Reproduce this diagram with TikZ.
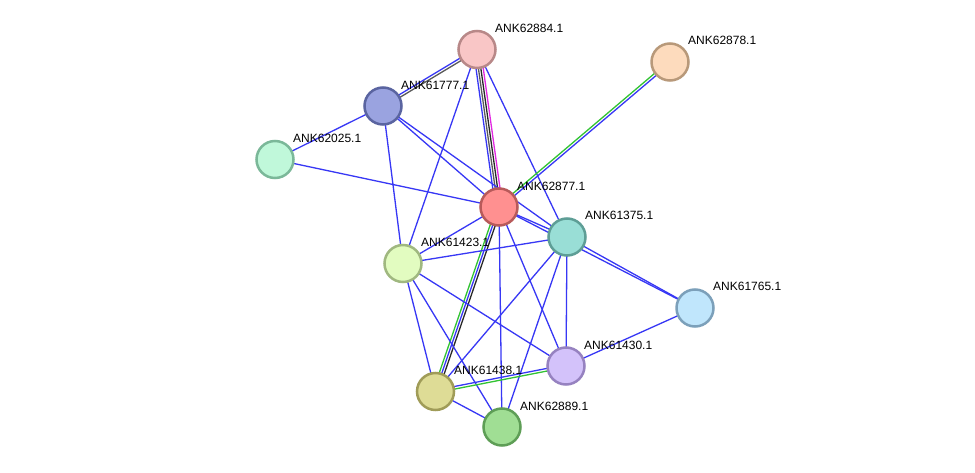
\documentclass[tikz,border=0pt]{standalone}
\usepackage{fontspec}
\setmainfont{Liberation Sans}
\usetikzlibrary{calc}
\pgfdeclarelayer{bgfill}
\pgfdeclarelayer{edges}
\pgfsetlayers{bgfill,edges,main}
\definecolor{eblue}{RGB}{55,55,245}
\definecolor{egreen}{RGB}{50,195,50}
\definecolor{eblack}{RGB}{40,40,40}
\definecolor{egray}{RGB}{90,90,90}
\definecolor{emag}{RGB}{225,40,225}
\definecolor{f84}{RGB}{249,198,198}\definecolor{d84}{RGB}{184,136,136}
\definecolor{f78}{RGB}{253,219,189}\definecolor{d78}{RGB}{184,153,122}
\definecolor{f77}{RGB}{154,163,224}\definecolor{d77}{RGB}{90,100,160}
\definecolor{f25}{RGB}{192,248,218}\definecolor{d25}{RGB}{123,184,153}
\definecolor{f877}{RGB}{255,144,144}\definecolor{d877}{RGB}{184,90,90}
\definecolor{f75}{RGB}{153,222,214}\definecolor{d75}{RGB}{94,158,150}
\definecolor{f23}{RGB}{226,252,192}\definecolor{d23}{RGB}{160,184,128}
\definecolor{f65}{RGB}{192,230,252}\definecolor{d65}{RGB}{124,160,186}
\definecolor{f30}{RGB}{211,194,250}\definecolor{d30}{RGB}{150,130,192}
\definecolor{f38}{RGB}{222,220,150}\definecolor{d38}{RGB}{160,156,88}
\definecolor{f89}{RGB}{160,222,148}\definecolor{d89}{RGB}{94,158,86}
\newcommand{\pe}[4]{\draw[edge,#4] ($(#1.center)!#3!90:(#2.center)$) -- ($(#2.center)!#3!-90:(#1.center)$);}
\newcommand{\se}[2]{\draw[edge,eblue] (#1.center) -- (#2.center);}
\begin{document}
\begin{tikzpicture}[x=1pt,y=-1pt,
  prot/.style={circle,minimum size=37pt,inner sep=0pt,line width=2.5pt,fill=f#1,draw=d#1},
  lbl/.style={anchor=west,inner sep=0pt,font=\fontsize{12pt}{14pt}\selectfont,text=black},
  edge/.style={line width=1.3pt}]
\useasboundingbox (0,0) rectangle (975,473);
\begin{pgfonlayer}{bgfill}
\fill[white] (0,0) rectangle (975,473);
\end{pgfonlayer}
% nodes
\node[prot=84] (a84) at (477,49.5) {};
\node[prot=78] (a78) at (670,62) {};
\node[prot=77] (a77) at (383,106) {};
\node[prot=25] (a25) at (275,159.5) {};
\node[prot=877] (a877) at (499,207) {};
\node[prot=75] (a75) at (567,237) {};
\node[prot=23] (a23) at (403,263.5) {};
\node[prot=65] (a65) at (695,308) {};
\node[prot=30] (a30) at (566,366) {};
\node[prot=38] (a38) at (435.5,391.5) {};
\node[prot=89] (a89) at (502,427) {};
% labels
\node[lbl] (l84) at (495,28) {ANK62884.1};
\node[lbl] (l78) at (688,40) {ANK62878.1};
\node[lbl] (l77) at (401,85) {ANK61777.1};
\node[lbl] (l25) at (293,138) {ANK62025.1};
\node[lbl] (l877) at (517,186) {ANK62877.1};
\node[lbl] (l75) at (585,215) {ANK61375.1};
\node[lbl] (l23) at (421,242) {ANK61423.1};
\node[lbl] (l65) at (713,286) {ANK61765.1};
\node[lbl] (l30) at (584,345) {ANK61430.1};
\node[lbl] (l38) at (454,370) {ANK61438.1};
\node[lbl] (l89) at (520,406) {ANK62889.1};
% edges
\begin{pgfonlayer}{edges}
\pe{a84}{a77}{-1.3pt}{eblue}
\pe{a84}{a77}{1.3pt}{egray}
\pe{a84}{a877}{-3.6pt}{eblue}
\pe{a84}{a877}{-1.2pt}{egray}
\pe{a84}{a877}{1.2pt}{eblack}
\pe{a84}{a877}{3.6pt}{emag}
\se{a84}{a23}
\se{a84}{a75}
\pe{a78}{a877}{1.3pt}{eblue}
\pe{a78}{a877}{-1.3pt}{egreen}
\se{a77}{a25}
\se{a77}{a877}
\se{a77}{a23}
\se{a77}{a75}
\se{a25}{a877}
\se{a877}{a75}
\se{a877}{a23}
\pe{a877}{a38}{-2.5pt}{egreen}
\pe{a877}{a38}{0pt}{eblue}
\pe{a877}{a38}{2.5pt}{eblack}
\se{a877}{a89}
\se{a877}{a30}
\se{a877}{a65}
\se{a75}{a23}
\se{a75}{a38}
\se{a75}{a89}
\se{a75}{a30}
\se{a75}{a65}
\se{a23}{a38}
\se{a23}{a89}
\se{a23}{a30}
\pe{a30}{a38}{1.3pt}{egreen}
\pe{a30}{a38}{-1.3pt}{eblue}
\se{a30}{a65}
\se{a38}{a89}
\end{pgfonlayer}
\end{tikzpicture}
\end{document}
